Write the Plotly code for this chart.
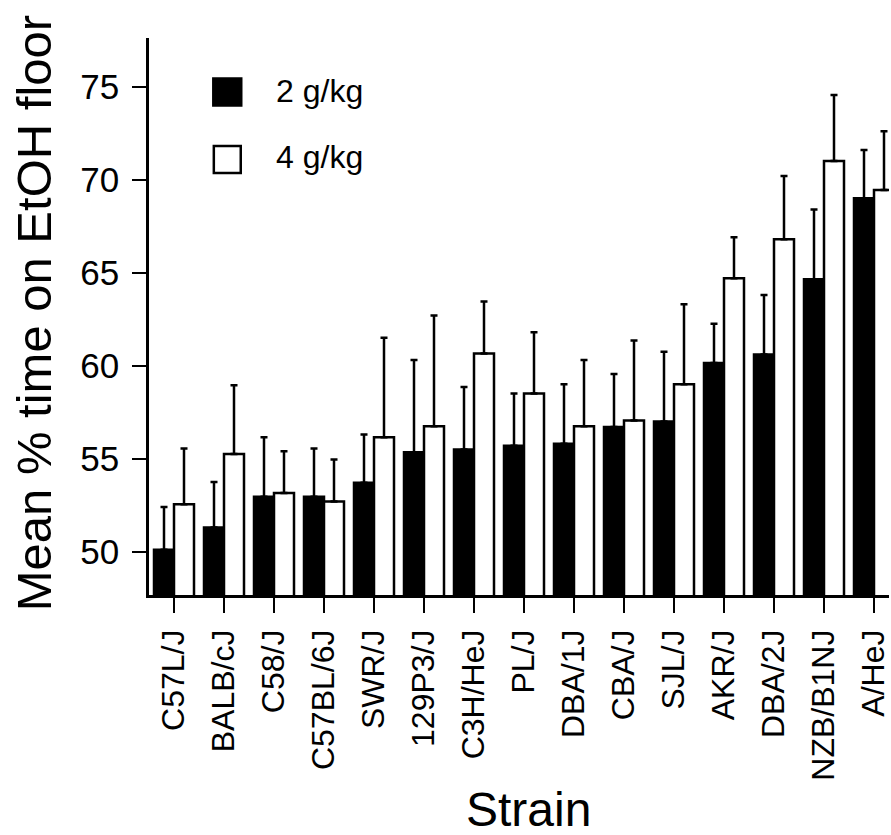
import plotly.graph_objects as go

strains = ["C57L/J", "BALB/cJ", "C58/J", "C57BL/6J", "SWR/J", "129P3/J", "C3H/HeJ",
           "PL/J", "DBA/1J", "CBA/J", "SJL/J", "AKR/J", "DBA/2J", "NZB/B1NJ", "A/HeJ"]
mean_2g = [50.1, 51.3, 52.95, 52.95, 53.7, 55.35, 55.5, 55.7, 55.8, 56.7, 57.0, 60.15, 60.6, 64.65, 69.0]
upper_2g = [52.4, 53.75, 56.15, 55.55, 56.3, 60.3, 58.85, 58.5, 59.0, 59.55, 60.75, 62.25, 63.8, 68.4, 71.6]
mean_4g = [52.55, 55.25, 53.15, 52.7, 56.15, 56.75, 60.65, 58.5, 56.75, 57.05, 59.0, 64.7, 66.8, 71.0, 69.45]
upper_4g = [55.55, 58.95, 55.4, 54.95, 61.5, 62.7, 63.45, 61.8, 60.3, 61.35, 63.3, 66.9, 70.2, 74.55, 72.6]
y_ticks = [50, 55, 60, 65, 70, 75]
legend_labels = ["2 g/kg", "4 g/kg"]

FONT = "Liberation Sans"
W, H = 891, 835
L, R, T, B = 149, 0, 38, 240
PW, PH = W - L - R, H - T - B


def px_x(px):
    return (px - L) / PW


def px_y(py):
    return (H - B - py) / PH


err_2g = [u - m for u, m in zip(upper_2g, mean_2g)]
err_4g = [u - m for u, m in zip(upper_4g, mean_4g)]

fig = go.Figure()
fig.add_trace(go.Bar(
    x=strains, y=mean_2g, name=legend_labels[0], showlegend=False,
    marker=dict(color="black", line=dict(color="black", width=2.5)),
    error_y=dict(type="data", symmetric=False, array=err_2g, arrayminus=[0] * len(strains),
                 color="black", thickness=2.5, width=3.5),
))
fig.add_trace(go.Bar(
    x=strains, y=mean_4g, name=legend_labels[1], showlegend=False,
    marker=dict(color="white", line=dict(color="black", width=2.5)),
    error_y=dict(type="data", symmetric=False, array=err_4g, arrayminus=[0] * len(strains),
                 color="black", thickness=2.5, width=3.5),
))

# legend drawn manually (large swatches)
fig.add_shape(type="rect", xref="paper", yref="paper",
              x0=px_x(213), x1=px_x(242), y0=px_y(106), y1=px_y(78),
              fillcolor="black", line=dict(color="black", width=1.5))
fig.add_shape(type="rect", xref="paper", yref="paper",
              x0=px_x(214), x1=px_x(241), y0=px_y(173), y1=px_y(146),
              fillcolor="white", line=dict(color="black", width=2.5))
fig.add_annotation(xref="paper", yref="paper", x=px_x(274), y=px_y(91),
                   text=legend_labels[0], showarrow=False, xanchor="left", yanchor="middle",
                   font=dict(family=FONT, size=32, color="black"))
fig.add_annotation(xref="paper", yref="paper", x=px_x(274), y=px_y(157),
                   text=legend_labels[1], showarrow=False, xanchor="left", yanchor="middle",
                   font=dict(family=FONT, size=32, color="black"))

# axis titles
fig.add_annotation(xref="paper", yref="paper", x=px_x(530), y=px_y(809),
                   text="Strain", showarrow=False, xanchor="center", yanchor="middle",
                   font=dict(family=FONT, size=48, color="black"))
fig.add_annotation(xref="paper", yref="paper", x=px_x(34), y=px_y(313),
                   text="Mean % time on EtOH floor", showarrow=False, textangle=-90,
                   xanchor="center", yanchor="middle",
                   font=dict(family=FONT, size=49, color="black"))

fig.update_layout(
    width=W, height=H,
    margin=dict(l=L, r=R, t=T, b=B, pad=0),
    paper_bgcolor="white", plot_bgcolor="white",
    barmode="group", bargap=0.2, bargroupgap=0,
    font=dict(family=FONT, color="black"),
    showlegend=False,
)
fig.update_xaxes(
    range=[-0.5, 14.3], showline=True, linecolor="black", linewidth=2.5,
    ticks="outside", ticklen=15, tickwidth=2, tickcolor="black",
    tickangle=-90, tickfont=dict(family=FONT, size=32, color="black"),
    showgrid=False, zeroline=False, ticklabelstandoff=4,
)
fig.update_yaxes(
    range=[47.67, 77.62], showline=True, linecolor="black", linewidth=2.5,
    ticks="outside", ticklen=14, tickwidth=2, tickcolor="black",
    tickvals=y_ticks, tickfont=dict(family=FONT, size=35, color="black"),
    showgrid=False, zeroline=False, ticklabelstandoff=6,
)

fig.write_html("out.html")
